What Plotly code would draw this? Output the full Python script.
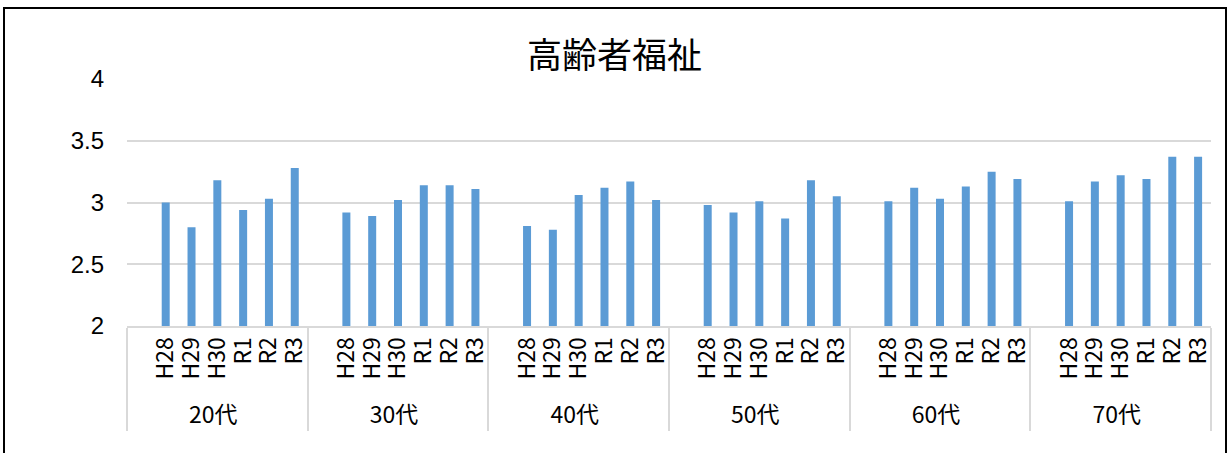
import plotly.graph_objects as go

groups = ["20代", "30代", "40代", "50代", "60代", "70代"]
periods = ["H28", "H29", "H30", "R1", "R2", "R3"]
values = {
    "20代": [3.00, 2.80, 3.18, 2.94, 3.03, 3.28],
    "30代": [2.92, 2.89, 3.02, 3.14, 3.14, 3.11],
    "40代": [2.81, 2.78, 3.06, 3.12, 3.17, 3.02],
    "50代": [2.98, 2.92, 3.01, 2.87, 3.18, 3.05],
    "60代": [3.01, 3.12, 3.03, 3.13, 3.25, 3.19],
    "70代": [3.01, 3.17, 3.22, 3.19, 3.37, 3.37],
}
y_ticks = [2, 2.5, 3, 3.5, 4]
title = "高齢者福祉"

# Excel-style chart leaves one empty slot at the start of each group
xg, xs, yv = [], [], []
for g in groups:
    xg.append(g); xs.append(" "); yv.append(None)
    for p, v in zip(periods, values[g]):
        xg.append(g); xs.append(p); yv.append(v)

fig = go.Figure(go.Bar(x=[xg, xs], y=yv, marker_color="#5b9bd5",
                       marker_line_width=0))

fig.update_layout(
    width=1229, height=453,
    margin=dict(l=127, r=18, t=79, b=127, autoexpand=False),
    paper_bgcolor="white", plot_bgcolor="white",
    bargap=0.69,
    showlegend=False,
    title=dict(text=title, x=0.5, xanchor="center", y=0.878, yanchor="middle",
               font=dict(family="Noto Sans CJK JP", size=35, color="#000")),
    font=dict(family="Noto Sans CJK JP", color="#000"),
)
fig.update_yaxes(range=[2, 4], tickvals=y_ticks, ticktext=["2", "2.5", "3", "3.5", "4"],
                 showgrid=True, gridcolor="#d9d9d9", gridwidth=1.5,
                 zeroline=False, showline=False, ticks="",
                 tickfont=dict(family="Liberation Sans", size=24, color="#000"),
                 ticklabelstandoff=22, automargin=False)
fig.update_xaxes(type="multicategory", tickangle=-90,
                 tickmode="linear", tick0=0, dtick=1,
                 tickfont=dict(family="Noto Sans CJK JP", size=23, color="#000"),
                 showline=True, linecolor="#d9d9d9", linewidth=2,
                 showdividers=True, dividercolor="#d9d9d9", dividerwidth=2,
                 ticks="", showgrid=False, automargin=False)

# outer chart border
fig.add_shape(type="rect", xref="paper", yref="paper",
              x0=(4 - 127) / 1084, x1=(1226 - 127) / 1084,
              y0=(326 - 470) / 247, y1=(326 - 8) / 247,
              line=dict(color="black", width=2), fillcolor="rgba(0,0,0,0)",
              layer="below")

fig.write_html("out.html", config={"displayModeBar": False},
               post_script="document.body.style.margin='0';document.body.style.overflow='hidden';")
